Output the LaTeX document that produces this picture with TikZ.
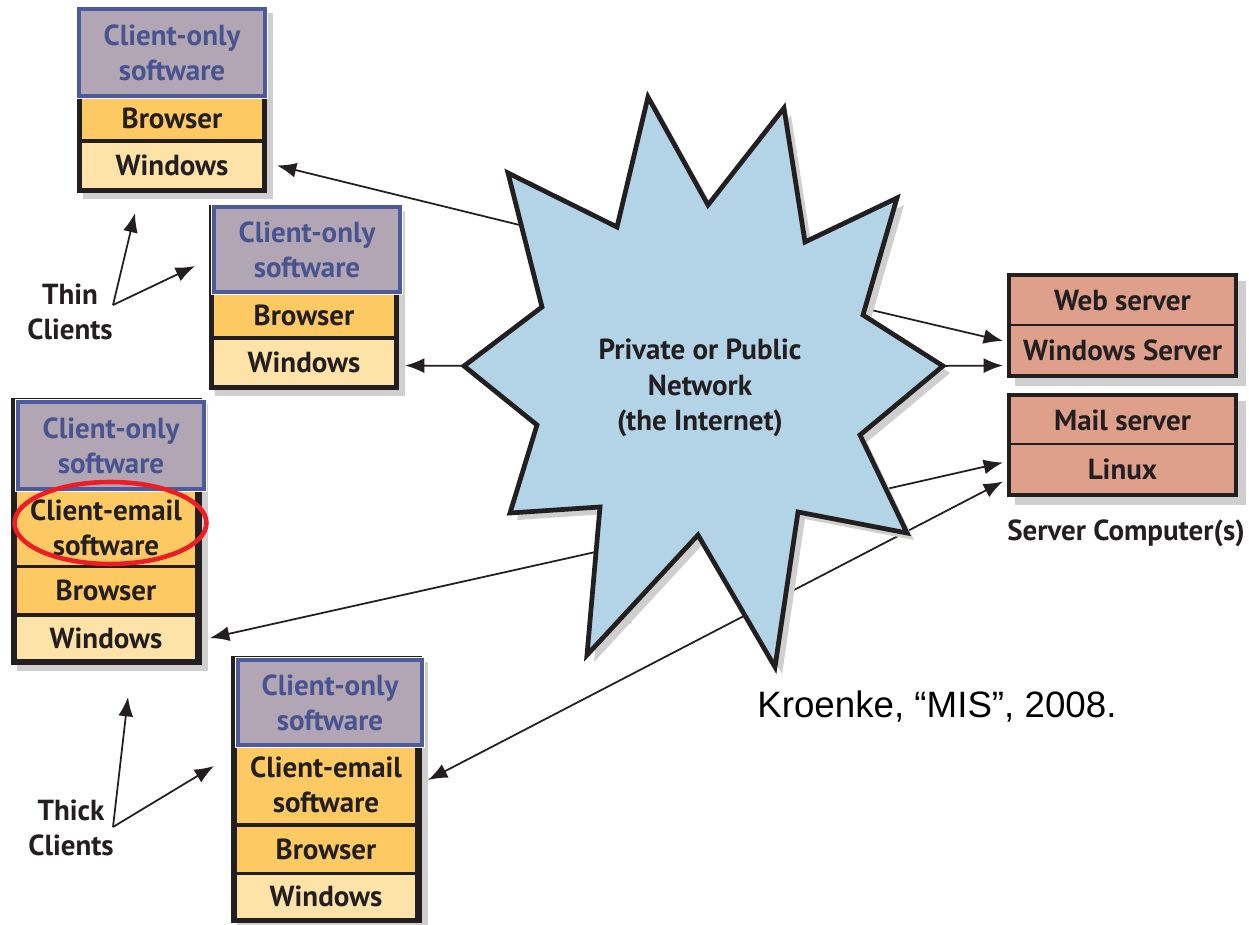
\documentclass[tikz,border=0pt]{standalone}
\usepackage{fontspec}
\setmainfont{PT Sans}
\newfontfamily\arialfont{Liberation Sans}
\usetikzlibrary{arrows.meta}
\definecolor{hdrfill}{HTML}{B2A6B4}
\definecolor{hdrblue}{HTML}{4D5A9B}
\definecolor{hdrtext}{HTML}{48548F}
\definecolor{orangerow}{HTML}{FCC963}
\definecolor{lightrow}{HTML}{FEE3A9}
\definecolor{srvfill}{HTML}{DEA08B}
\definecolor{starfill}{HTML}{B3D3E7}
\definecolor{shadowgray}{HTML}{CFCFCF}
\definecolor{darktext}{HTML}{231F20}
\definecolor{ringred}{HTML}{EE1C24}
\newcommand{\layerbox}[7]{\node[#6, minimum width={(#4-#2)*0.02cm}, minimum height={(#5-#3)*0.02cm}] (#1) at ({(#2+#4)/2},{(#3+#5)/2}) {#7};}
\tikzset{
  boxfont/.style={font=\bfseries\fontsize{16.5}{20}\selectfont},
  layer/.style={boxfont, inner sep=0pt, outer sep=0pt, text=darktext, align=center},
  hdr/.style={layer, fill=hdrfill, draw=hdrblue, line width=1.8pt, preaction={draw=white, line width=3.8pt}, text=hdrtext},
  orow/.style={layer, fill=orangerow},
  lrow/.style={layer, fill=lightrow},
  srow/.style={layer, fill=srvfill},
  boxframe/.style={fill=darktext},
  dropshade/.style={fill=shadowgray},
  conn/.style={line width=1pt, draw=darktext},
  tip/.tip={Latex[length=11pt,width=8.5pt]},
  arr/.style={conn, -tip},
  label/.style={boxfont, text=darktext, align=center},
}
\begin{document}
\begin{tikzpicture}[x=0.02cm, y=-0.02cm]
\useasboundingbox[fill=white] (0,0) rectangle (1249,925);

% ---------- Box 1 (thin client, top) ----------
\path[dropshade] (83,13) rectangle (273,199);
\path[boxframe] (77,7) rectangle (267,193);
\layerbox{b1brw}{82}{98}{262}{139}{orow}{Browser}
\layerbox{b1win}{82}{143}{262}{188}{lrow}{Windows}
\layerbox{b1hdr}{79}{9}{265}{96}{hdr}{Client-only\\software}

% ---------- Box 2 (thin client) ----------
\path[dropshade] (215,211) rectangle (405,396);
\path[boxframe] (209,205) rectangle (399,390);
\layerbox{b2brw}{214}{295}{394}{336}{orow}{Browser}
\layerbox{b2win}{214}{340}{394}{385}{lrow}{Windows}
\layerbox{b2hdr}{214}{207}{400}{292}{hdr}{Client-only\\software}

% ---------- Box 3 (thick client) ----------
\path[dropshade] (17,404) rectangle (208,671);
\path[boxframe] (11,398) rectangle (202,665);
\layerbox{b3ce}{17}{491}{195}{565}{orow}{Client-email\\software}
\layerbox{b3brw}{17}{568}{195}{613}{orow}{Browser}
\layerbox{b3win}{17}{617}{195}{659}{lrow}{Windows}
\layerbox{b3hdr}{18}{402}{204}{489}{hdr}{Client-only\\software}
\draw[ringred, line width=2.6pt] (110.5,523) ellipse [x radius=1.92cm, y radius=0.82cm];

% ---------- Box 4 (thick client) ----------
\path[dropshade] (237,662) rectangle (428,929);
\path[boxframe] (231,656) rectangle (422,923);
\layerbox{b4ce}{237}{747}{415}{823}{orow}{Client-email\\software}
\layerbox{b4brw}{237}{827}{415}{872}{orow}{Browser}
\layerbox{b4win}{237}{875}{415}{918}{lrow}{Windows}
\layerbox{b4hdr}{238}{660}{422}{745}{hdr}{Client-only\\software}

% ---------- Servers ----------
\path[dropshade] (1015,281) rectangle (1246,386);
\path[boxframe] (1007,273) rectangle (1238,378);
\layerbox{websrv}{1011}{277}{1234}{324}{srow}{Web server}
\layerbox{winsrv}{1011}{326}{1234}{374}{srow}{Windows Server}
\path[dropshade] (1015,401) rectangle (1246,505);
\path[boxframe] (1007,393) rectangle (1238,497);
\layerbox{mailsrv}{1011}{397}{1234}{443}{srow}{Mail server}
\layerbox{linux}{1011}{445}{1234}{493}{srow}{Linux}
\node[label] (srvlabel) at (1126,533) {Server Computer(s)};

% ---------- Labels ----------
\node[label] (thin) at (70,312) {Thin\\Clients};
\node[label] (thick) at (71,828) {Thick\\Clients};
\coordinate (thinv) at (113,305);
\coordinate (thint1) at (135,213);
\coordinate (thint2) at (195,266);
\draw[arr] (thinv) -- (thint1);
\draw[arr] (thinv) -- (thint2);
\coordinate (thickv) at (113,827);
\coordinate (thickt1) at (128,697);
\coordinate (thickt2) at (214,766);
\draw[arr] (thickv) -- (thickt1);
\draw[arr] (thickv) -- (thickt2);

% ---------- Connectors (behind the network star) ----------
\coordinate (s1) at (540,230);
\coordinate (s2) at (480,366);
\coordinate (s3) at (600,551);
\coordinate (s5) at (860,495);
\coordinate (s6) at (850,305);
\coordinate (s7) at (930,366);
\draw[arr] (s1) -- ([xshift=0.3cm]b1win.east);
\draw[arr] (s2) -- ([xshift=0.22cm,yshift=-0.06cm]b2win.east);
\draw[arr] (s3) -- ([xshift=0.3cm]b3win.east);
\draw[conn, tip-tip] ([xshift=0.26cm,yshift=0.1cm]b4ce.east) -- ([xshift=-0.16cm,yshift=-0.25cm]linux.west);
\draw[arr] (s5) -- ([xshift=-0.16cm,yshift=0.13cm]linux.west);
\draw[arr] (s6) -- ([xshift=-0.16cm,yshift=0.18cm]winsrv.west);
\draw[arr] (s7) -- ([xshift=-0.16cm,yshift=-0.31cm]winsrv.west);

% ---------- Network star ----------
\begin{scope}[shift={(7,7)}]
\path[dropshade] (648,97) -- (708,205) -- (784,108) -- (805,242) -- (897,198) -- (863,315) -- (943,366) -- (860,435) -- (907,533) -- (798,512) -- (775,667) -- (698,535) -- (587,655) -- (600,507) -- (510,513) -- (537,425) -- (464,366) -- (542,307) -- (508,173) -- (617,227) -- cycle;
\end{scope}
\draw[fill=starfill, draw=darktext, line width=2.7pt, line join=miter] (648,97) -- (708,205) -- (784,108) -- (805,242) -- (897,198) -- (863,315) -- (943,366) -- (860,435) -- (907,533) -- (798,512) -- (775,667) -- (698,535) -- (587,655) -- (600,507) -- (510,513) -- (537,425) -- (464,366) -- (542,307) -- (508,173) -- (617,227) -- cycle;
\node[label] (net) at (700,388) {Private or Public\\Network\\(the Internet)};

% ---------- Citation ----------
\node[font=\arialfont\fontsize{20.9}{24}\selectfont, anchor=base west, inner sep=0pt] (cite) at (757,718) {Kroenke, “MIS”, 2008.};
\end{tikzpicture}
\end{document}
